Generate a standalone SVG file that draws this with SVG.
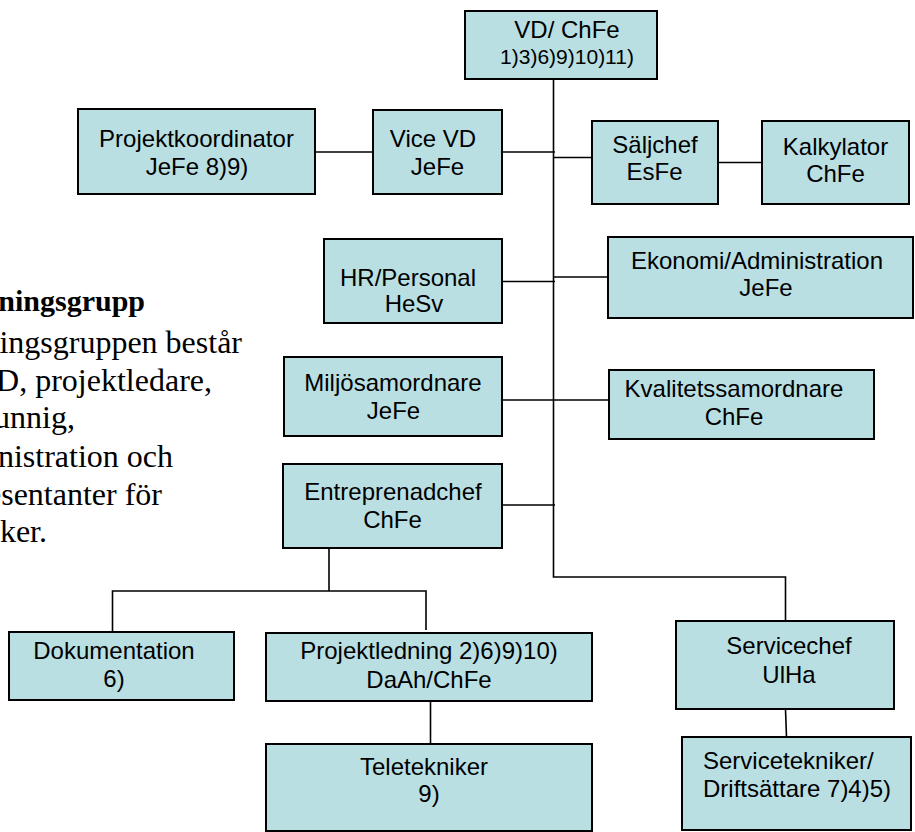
<svg xmlns="http://www.w3.org/2000/svg" width="915" height="832" viewBox="0 0 915 832">
<style>
.box{fill:#B9DFE3;stroke:#000;stroke-width:2}
.t{font-family:"Liberation Sans",Arial,sans-serif;font-size:24px;fill:#000;text-anchor:middle}
.s{font-size:21px}
.l{text-anchor:start}
.c{fill:none;stroke:#000;stroke-width:1.6}
.p{font-family:"Liberation Serif","Times New Roman",serif;font-size:32px;fill:#000;text-anchor:end}
.h{font-weight:bold;font-size:30px}
</style>
<rect width="915" height="832" fill="#fff"/>
<g id="connectors">
<path class="c" d="M553.5 79V577H785.5V621"/>
<path class="c" d="M502 152H555"/>
<path class="c" d="M315 152H373"/>
<path class="c" d="M553.5 157.5H592"/>
<path class="c" d="M718 162.5H762"/>
<path class="c" d="M502 281.5H555"/>
<path class="c" d="M553.5 277H608"/>
<path class="c" d="M502 400H609"/>
<path class="c" d="M502 505H555"/>
<path class="c" d="M329 548V591M112.5 632V591H426V630"/>
<path class="c" d="M430.5 701V744"/>
<path class="c" d="M785.5 709L786.5 737"/>
</g>
<g id="vd"><rect class="box" x="465" y="11" width="192" height="68"/><text class="t" x="567" y="38">VD/ ChFe</text><text class="t s" x="567" y="64">1)3)6)9)10)11)</text></g>
<g id="projektkoordinator"><rect class="box" x="78" y="109" width="237" height="85"/><text class="t" x="196.5" y="147">Projektkoordinator</text><text class="t" x="197" y="175">JeFe 8)9)</text></g>
<g id="vicevd"><rect class="box" x="373" y="110" width="129" height="84"/><text class="t" x="433" y="147">Vice VD</text><text class="t" x="437.5" y="175">JeFe</text></g>
<g id="saljchef"><rect class="box" x="592" y="121" width="126" height="83"/><text class="t" x="655" y="153">Säljchef</text><text class="t" x="654.5" y="180">EsFe</text></g>
<g id="kalkylator"><rect class="box" x="762" y="121" width="147" height="83"/><text class="t" x="835.5" y="155">Kalkylator</text><text class="t" x="835.5" y="182">ChFe</text></g>
<g id="hr"><rect class="box" x="324" y="239" width="178" height="84"/><text class="t" x="408" y="286">HR/Personal</text><text class="t" x="414" y="312">HeSv</text></g>
<g id="ekonomi"><rect class="box" x="608" y="237" width="305" height="81"/><text class="t" x="757" y="269">Ekonomi/Administration</text><text class="t" x="766" y="296">JeFe</text></g>
<g id="miljo"><rect class="box" x="284" y="357" width="218" height="79"/><text class="t" x="393" y="391">Miljösamordnare</text><text class="t" x="393.5" y="419">JeFe</text></g>
<g id="kvalitet"><rect class="box" x="609" y="370" width="265" height="69"/><text class="t" x="734" y="397">Kvalitetssamordnare</text><text class="t" x="734" y="425">ChFe</text></g>
<g id="entreprenadchef"><rect class="box" x="283" y="464" width="219" height="84"/><text class="t" x="393" y="500">Entreprenadchef</text><text class="t" x="392.5" y="528">ChFe</text></g>
<g id="dokumentation"><rect class="box" x="9" y="632" width="225" height="68"/><text class="t" x="114" y="659">Dokumentation</text><text class="t" x="114" y="687">6)</text></g>
<g id="projektledning"><rect class="box" x="266" y="633" width="326" height="68"/><text class="t" x="429" y="659">Projektledning 2)6)9)10)</text><text class="t" x="429" y="688">DaAh/ChFe</text></g>
<g id="teletekniker"><rect class="box" x="266" y="744" width="326" height="87"/><text class="t" x="424" y="775">Teletekniker</text><text class="t" x="429" y="802">9)</text></g>
<g id="servicechef"><rect class="box" x="676" y="621" width="218" height="88"/><text class="t" x="789" y="654">Servicechef</text><text class="t" x="789" y="683">UlHa</text></g>
<g id="servicetekniker"><rect class="box" x="682" y="737" width="229" height="93"/><text class="t l" x="703" y="769">Servicetekniker/</text><text class="t l" x="703" y="797">Driftsättare 7)4)5)</text></g>
<g id="ledningsgrupp-text">
<text class="p h" x="145" y="311">ningsgrupp</text>
<text class="p" x="242" y="353">ingsgruppen består</text>
<text class="p" x="212" y="391">D, projektledare,</text>
<text class="p" x="75" y="428">unnig,</text>
<text class="p" x="173" y="467">nistration och</text>
<text class="p" x="162" y="505">esentanter för</text>
<text class="p" x="47" y="542">ker.</text>
</g>
</svg>
